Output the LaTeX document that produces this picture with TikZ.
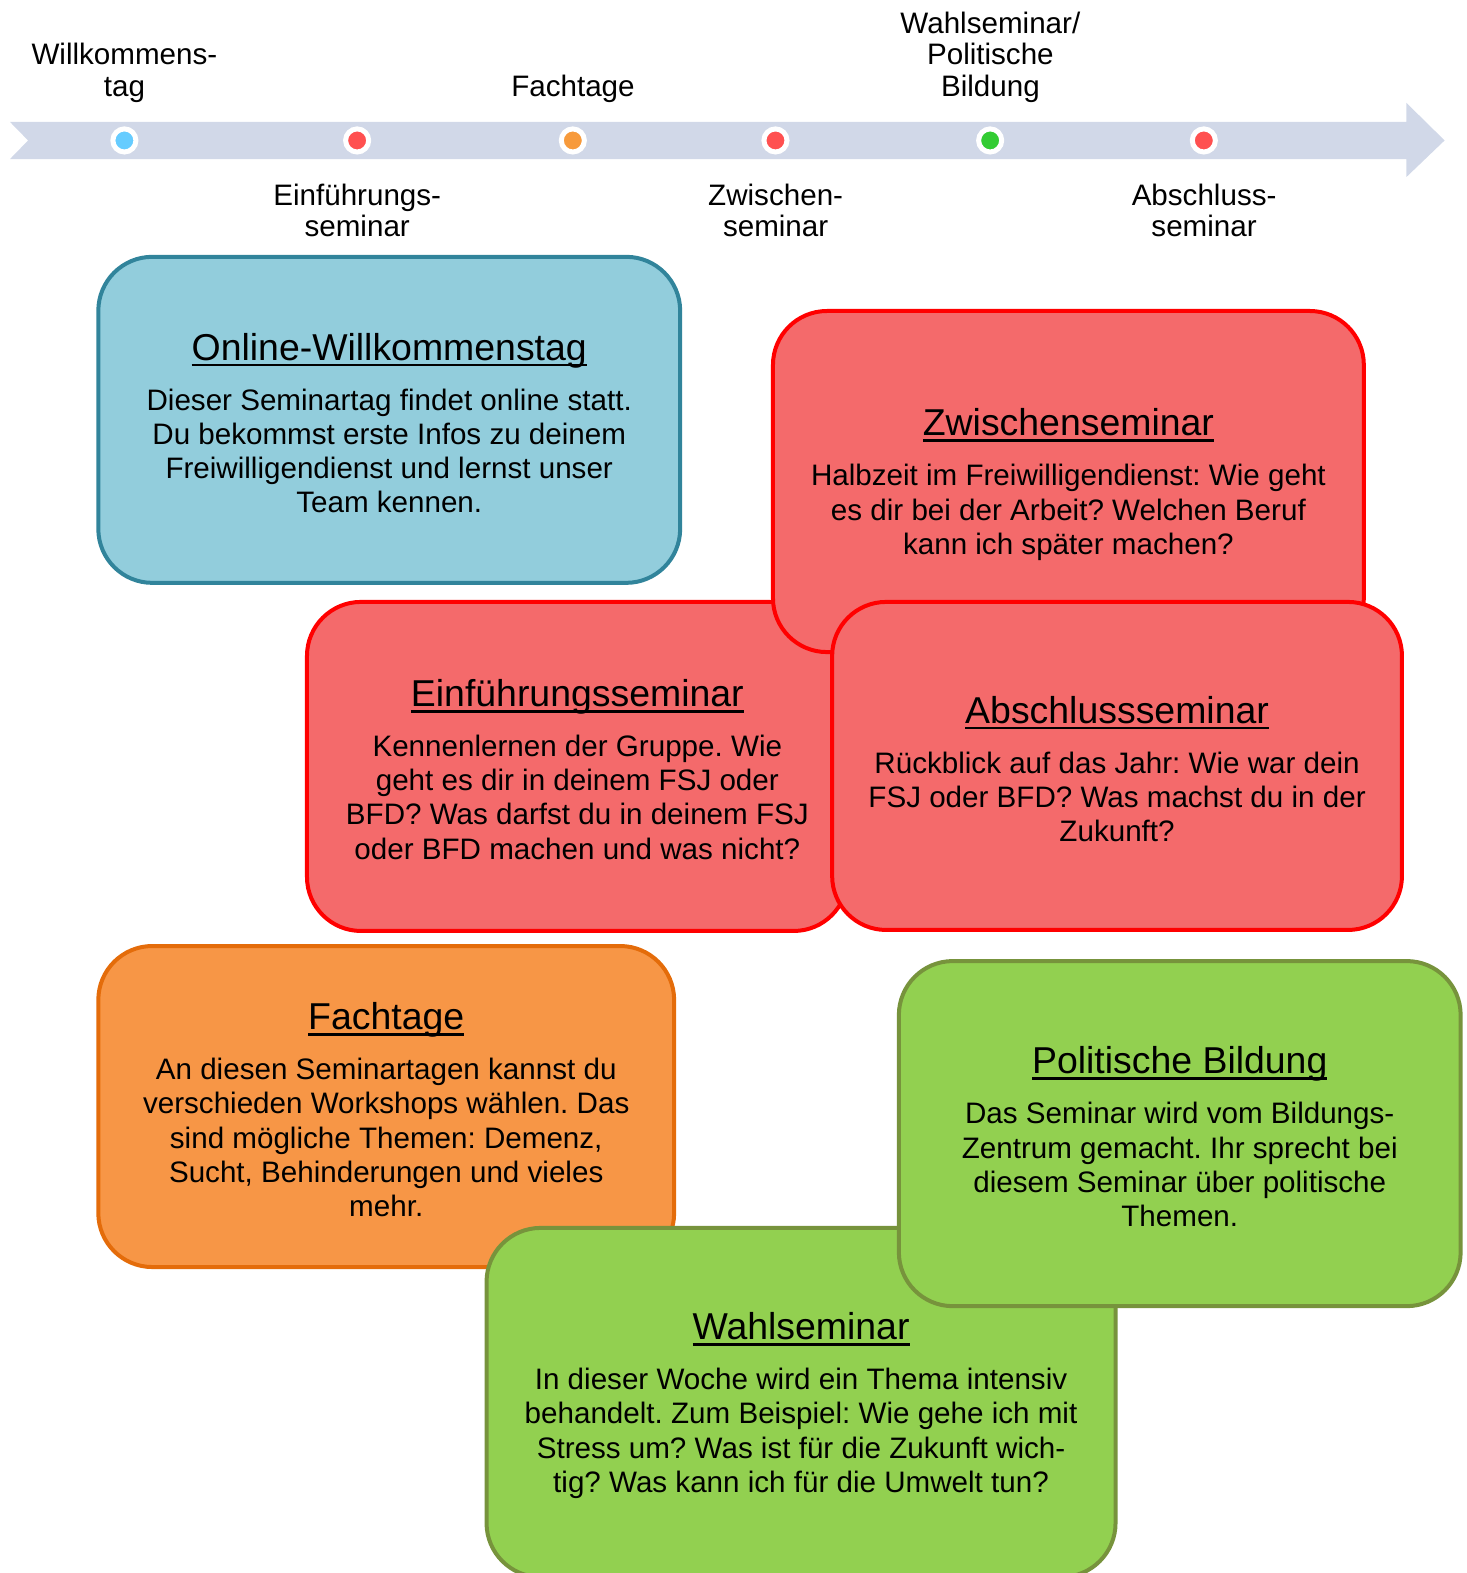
\documentclass[tikz,border=0pt]{standalone}
\usepackage{fontspec}
\setmainfont{Liberation Sans}
\frenchspacing
\usepackage{tikz}
\usetikzlibrary{positioning}
\definecolor{LineGray}{HTML}{D1D8E8}
\definecolor{DotBlue}{HTML}{66CCFF}
\definecolor{DotRed}{HTML}{FF5050}
\definecolor{DotOrange}{HTML}{F79A3C}
\definecolor{DotGreen}{HTML}{33CC33}
\definecolor{SemBlue}{HTML}{92CDDC}
\definecolor{SemBlueDark}{HTML}{31849B}
\definecolor{SemRed}{HTML}{F46A6B}
\definecolor{SemRedDark}{HTML}{FF0000}
\definecolor{SemOrange}{HTML}{F79646}
\definecolor{SemOrangeDark}{HTML}{E46C0A}
\definecolor{SemGreen}{HTML}{92D050}
\definecolor{SemGreenDark}{HTML}{77933C}
\newcommand{\boxtitle}[1]{{\fontsize{37.3}{44}\selectfont\rule{0pt}{33pt}\setbox0=\hbox{#1}\rlap{\copy0}\rule[-6pt]{\wd0}{2.4pt}}}

\begin{document}
\begin{tikzpicture}[
  x=1pt, y=-1pt, scale=1.0034,
  every node/.append style={transform shape},
  node distance=24pt,
  tldot/.style={circle, draw=white, line width=5pt, minimum size=23pt, inner sep=0pt},
  lbl/.style={align=center, inner sep=0pt, font=\fontsize{29.5}{31}\selectfont},
  sembox/.style={rectangle, rounded corners=54pt, line width=4pt, align=center, inner sep=0pt, font=\fontsize{29.5}{34}\selectfont},
  bluebox/.style={sembox, draw=SemBlueDark, fill=SemBlue},
  redbox/.style={sembox, draw=SemRedDark, fill=SemRed},
  orangebox/.style={sembox, draw=SemOrangeDark, fill=SemOrange},
  greenbox/.style={sembox, draw=SemGreenDark, fill=SemGreen}
]
\useasboundingbox (0,0) rectangle (1462,1568);
\fill[LineGray] (10,121.6) -- (1402,121.6) -- (1402,102.6) -- (1440,140) -- (1402,176.4) -- (1402,158.5) -- (10,158.5) -- (28,140) -- cycle;
\node[tldot, fill=DotBlue] (willk) at (124,140) {};
\node[tldot, fill=DotRed] (einf) at (356,140) {};
\node[tldot, fill=DotOrange] (fach) at (571,140) {};
\node[tldot, fill=DotRed] (zwisch) at (773,140) {};
\node[tldot, fill=DotGreen] (wahl) at (987,140) {};
\node[tldot, fill=DotRed] (absch) at (1200,140) {};
\node[lbl, above=of willk] (willklbl) {Willkommens-\\tag};
\node[lbl, above=of fach] (fachlbl) {Fachtage};
\node[lbl, above=of wahl] (wahllbl) {Wahlseminar/\\Politische\\Bildung};
\node[lbl, below=29pt of einf] (einflbl) {Einführungs-\\seminar};
\node[lbl, below=29pt of zwisch] (zwischlbl) {Zwischen-\\seminar};
\node[lbl, below=29pt of absch] (abschlbl) {Abschluss-\\seminar};

\node[bluebox, minimum width=580pt, minimum height=325pt] (onlinebox) at (388,418.5) {\boxtitle{Online-Willkommenstag}\\[16pt]Dieser Seminartag findet online statt.\\Du bekommst erste Infos zu deinem\\Freiwilligendienst und lernst unser\\Team kennen.};
\node[redbox, minimum width=539pt, minimum height=328pt] (einfbox) at (575.5,764) {\boxtitle{Einführungsseminar}\\[16pt]Kennenlernen der Gruppe. Wie\\geht es dir in deinem FSJ oder\\BFD? Was darfst du in deinem FSJ\\oder BFD machen und was nicht?};
\node[redbox, minimum width=589pt, minimum height=340pt] (zwischbox) at (1065,480) {\boxtitle{Zwischenseminar}\\[16pt]Halbzeit im Freiwilligendienst: Wie geht\\es dir bei der Arbeit? Welchen Beruf\\kann ich später machen?};
\node[redbox, minimum width=568pt, minimum height=327pt] (abschbox) at (1113.5,763.5) {\boxtitle{Abschlussseminar}\\[16pt]Rückblick auf das Jahr: Wie war dein\\FSJ oder BFD? Was machst du in der\\Zukunft?};
\node[orangebox, minimum width=574pt, minimum height=320pt] (fachbox) at (385,1103) {\boxtitle{Fachtage}\\[16pt]An diesen Seminartagen kannst du\\verschieden Workshops wählen. Das\\sind mögliche Themen: Demenz,\\Sucht, Behinderungen und vieles\\mehr.};
\node[greenbox, minimum width=627pt, minimum height=348pt] (wahlbox) at (798.5,1398) {\boxtitle{Wahlseminar}\\[16pt]In dieser Woche wird ein Thema intensiv\\behandelt. Zum Beispiel: Wie gehe ich mit\\Stress um? Was ist für die Zukunft wich-\\tig? Was kann ich für die Umwelt tun?};
\node[greenbox, minimum width=560pt, minimum height=344pt] (politbox) at (1176,1130) {\boxtitle{Politische Bildung}\\[16pt]Das Seminar wird vom Bildungs-\\Zentrum gemacht. Ihr sprecht bei\\diesem Seminar über politische\\Themen.};
\end{tikzpicture}
\end{document}
